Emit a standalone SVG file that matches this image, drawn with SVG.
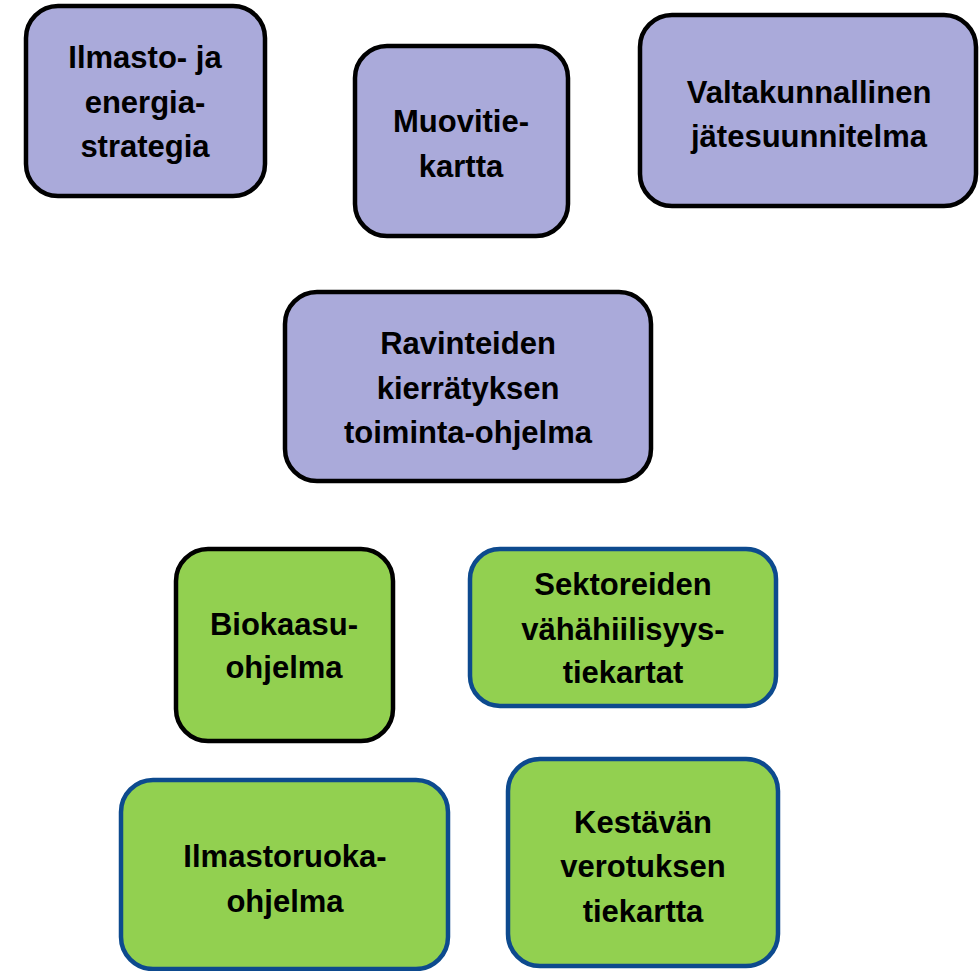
<svg xmlns="http://www.w3.org/2000/svg" width="979" height="971" viewBox="0 0 979 971">
<style>
.box{stroke-width:4.5}
.p{fill:#AAAADA;stroke:#000}
.g{fill:#92D050;stroke:#000}
.gb{fill:#92D050;stroke:#0D4A8E}
text{font-family:"Liberation Sans",Arial,sans-serif;font-weight:bold;font-size:31px;fill:#000;text-anchor:middle}
</style>
<rect width="979" height="971" fill="#fff"/>
<g id="connectors"/>
<g id="n1"><rect class="box p" x="26" y="6" width="239" height="190" rx="32"/>
<text x="145" y="68">Ilmasto- ja</text><text x="145" y="113">energia-</text><text x="145" y="157">strategia</text></g>
<g id="n2"><rect class="box p" x="355" y="46" width="213" height="190" rx="32"/>
<text x="461" y="132">Muovitie-</text><text x="461" y="177">kartta</text></g>
<g id="n3"><rect class="box p" x="640" y="15" width="336" height="191" rx="32"/>
<text x="809" y="103">Valtakunnallinen</text><text x="809" y="147">jätesuunnitelma</text></g>
<g id="n4"><rect class="box p" x="285" y="292" width="366" height="189" rx="32"/>
<text x="468" y="354">Ravinteiden</text><text x="468" y="399">kierrätyksen</text><text x="468" y="443">toiminta-ohjelma</text></g>
<g id="n5"><rect class="box g" x="176" y="549" width="217" height="192" rx="32"/>
<text x="284" y="635">Biokaasu-</text><text x="284" y="678">ohjelma</text></g>
<g id="n6"><rect class="box gb" x="470" y="549" width="306" height="157" rx="30"/>
<text x="623" y="595">Sektoreiden</text><text x="623" y="640">vähähiilisyys-</text><text x="623" y="683">tiekartat</text></g>
<g id="n7"><rect class="box gb" x="121" y="780" width="327" height="189" rx="32"/>
<text x="285" y="867">Ilmastoruoka-</text><text x="285" y="912">ohjelma</text></g>
<g id="n8"><rect class="box gb" x="508" y="759" width="270" height="207" rx="32"/>
<text x="643" y="833">Kestävän</text><text x="643" y="877">verotuksen</text><text x="643" y="922">tiekartta</text></g>
</svg>
